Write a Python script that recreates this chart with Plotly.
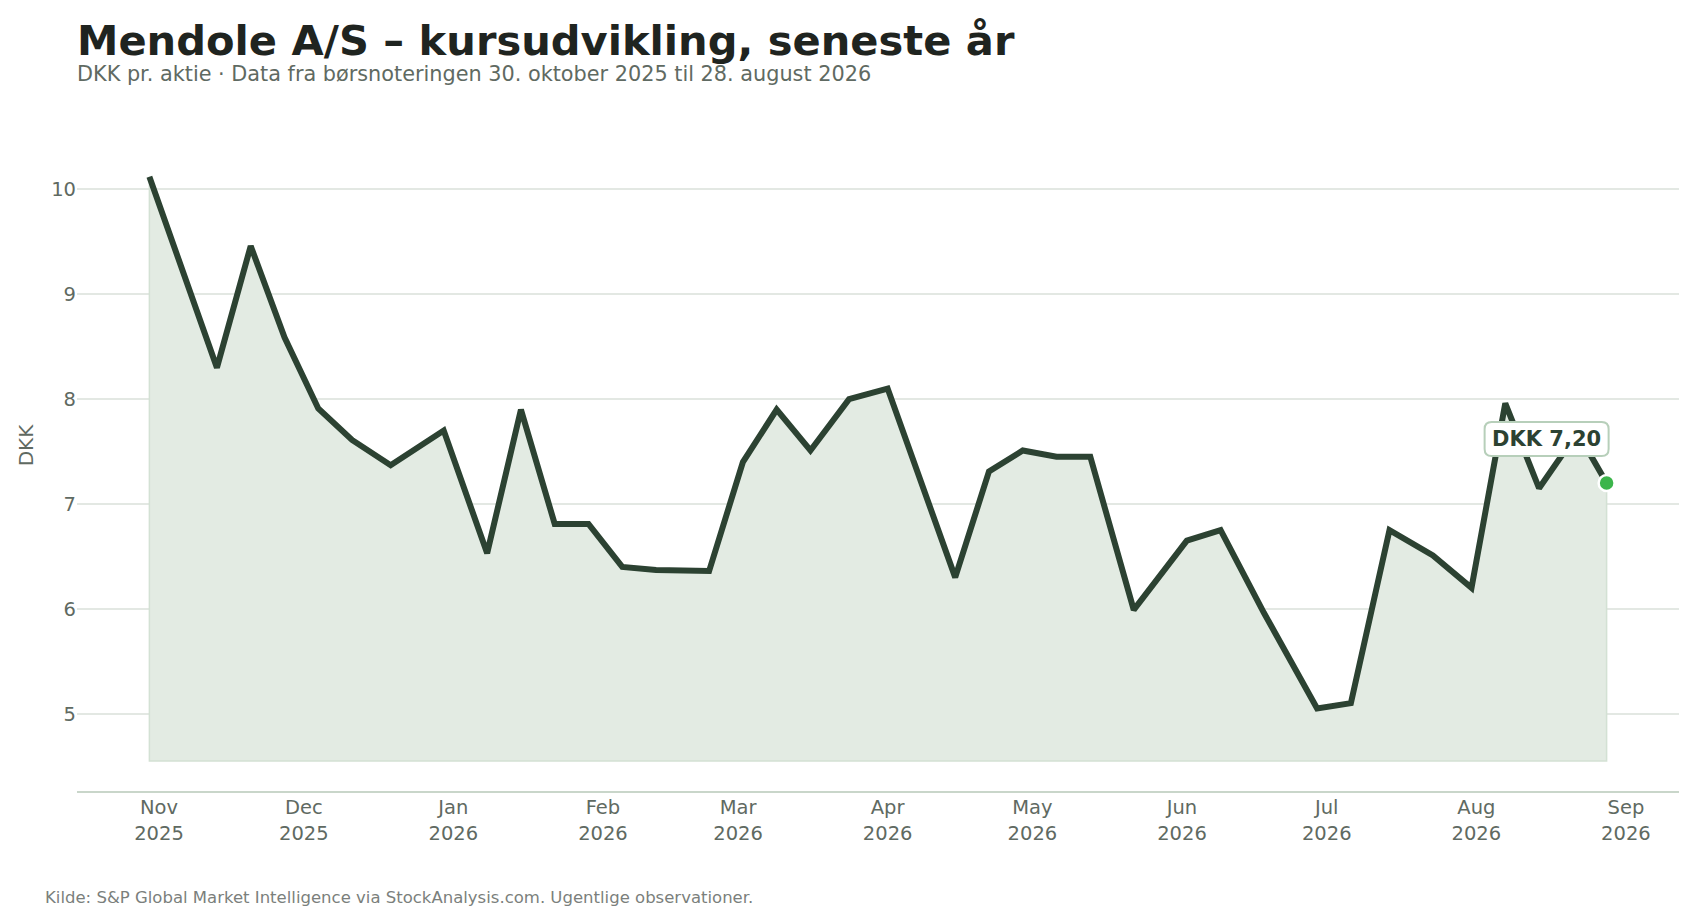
import plotly.graph_objects as go

# weekly closing prices (DKK)
dates = ["2025-10-30", "2025-11-06", "2025-11-13", "2025-11-20", "2025-11-27",
         "2025-12-04", "2025-12-11", "2025-12-19", "2025-12-30", "2026-01-08",
         "2026-01-15", "2026-01-22", "2026-01-29", "2026-02-05", "2026-02-12",
         "2026-02-23", "2026-03-02", "2026-03-09", "2026-03-16", "2026-03-24",
         "2026-04-01", "2026-04-15", "2026-04-22", "2026-04-29", "2026-05-06",
         "2026-05-13", "2026-05-22", "2026-06-02", "2026-06-09", "2026-06-18",
         "2026-06-29", "2026-07-06", "2026-07-14", "2026-07-23", "2026-07-31",
         "2026-08-07", "2026-08-14", "2026-08-22", "2026-08-28"]
prices = [10.12, 9.22, 8.30, 9.46, 8.59,
          7.91, 7.61, 7.37, 7.70, 6.53,
          7.90, 6.81, 6.81, 6.40, 6.37,
          6.36, 7.40, 7.90, 7.51, 8.00,
          8.10, 6.30, 7.31, 7.51, 7.45,
          7.45, 5.99, 6.65, 6.75, 5.96,
          5.05, 5.10, 6.75, 6.51, 6.20,
          7.96, 7.15, 7.68, 7.20]
base = 4.55

title = "Mendole A/S – kursudvikling, seneste år"
subtitle = "DKK pr. aktie · Data fra børsnoteringen 30. oktober 2025 til 28. august 2026"
source = "Kilde: S&P Global Market Intelligence via StockAnalysis.com. Ugentlige observationer."

dark = "#2c4232"
grey = "#5f6a62"
font = "DejaVu Sans"

fig = go.Figure()

# shaded area under the line, closed down to the base level
fig.add_trace(go.Scatter(
    x=dates + [dates[-1], dates[0], dates[0]],
    y=prices + [base, base, prices[0]],
    mode="lines", fill="toself", fillcolor="#e3ebe3",
    line=dict(color="#d3e1d4", width=1.5),
    hoverinfo="skip", showlegend=False))

fig.add_trace(go.Scatter(
    x=dates, y=prices, mode="lines",
    line=dict(color=dark, width=6),
    showlegend=False))

# last observation
fig.add_trace(go.Scatter(
    x=[dates[-1]], y=[prices[-1]], mode="markers",
    marker=dict(color="#3cb54b", size=16, line=dict(color="white", width=2.5)),
    showlegend=False))

# rounded label box next to the last point (pixel offsets)
fig.add_shape(type="path", xref="x", yref="y", xsizemode="pixel", ysizemode="pixel",
              xanchor=dates[-1], yanchor=prices[-1],
              path="M -115,27 L -5,27 Q 2,27 2,34 L 2,54 Q 2,61 -5,61 L -115,61 "
                   "Q -122,61 -122,54 L -122,34 Q -122,27 -115,27 Z",
              fillcolor="white", line=dict(color="#b7cfba", width=2), layer="above")

last_txt = "DKK " + f"{prices[-1]:.2f}".replace(".", ",")
fig.add_annotation(x=dates[-1], y=prices[-1], text="<b>" + last_txt + "</b>",
                   showarrow=False, xshift=-60, yshift=44,
                   font=dict(family=font, size=21, color=dark))

fig.add_annotation(x=-0.0014, y=1.0864, xref="paper", yref="paper", xanchor="left", yanchor="middle",
                   text="<b>" + title + "</b>", showarrow=False,
                   font=dict(family=font, size=41.6, color="#1f2420"))
fig.add_annotation(x=-0.0014, y=1.038, xref="paper", yref="paper", xanchor="left", yanchor="middle",
                   text=subtitle, showarrow=False,
                   font=dict(family=font, size=20.8, color=grey))
fig.add_annotation(x=-0.021, y=-0.1546, xref="paper", yref="paper", xanchor="left", yanchor="middle",
                   text=source, showarrow=False,
                   font=dict(family=font, size=16.5, color="#7b7f7c"))

fig.update_xaxes(range=["2025-10-15", "2026-09-12"], dtick="M1", tick0="2025-11-01",
                 tickformat="%b<br>%Y", showgrid=False, zeroline=False,
                 showline=True, linecolor="#c9d6ca", linewidth=1.5,
                 tickfont=dict(family=font, size=19.5, color=grey), ticks="",
                 ticklabelstandoff=-2)
fig.update_yaxes(range=[4.263, 10.852], tickvals=[5, 6, 7, 8, 9, 10],
                 showgrid=True, gridcolor="#e3e8e3", gridwidth=1.5, zeroline=False,
                 tickfont=dict(family=font, size=19.5, color=grey), ticks="",
                 title=dict(text="DKK", font=dict(family=font, size=20, color=grey), standoff=12))

fig.update_layout(width=1687, height=915, plot_bgcolor="white", paper_bgcolor="white",
                  margin=dict(l=69, r=16, t=92, b=132),
                  font=dict(family=font), hovermode="x")

fig.write_html("out.html")
